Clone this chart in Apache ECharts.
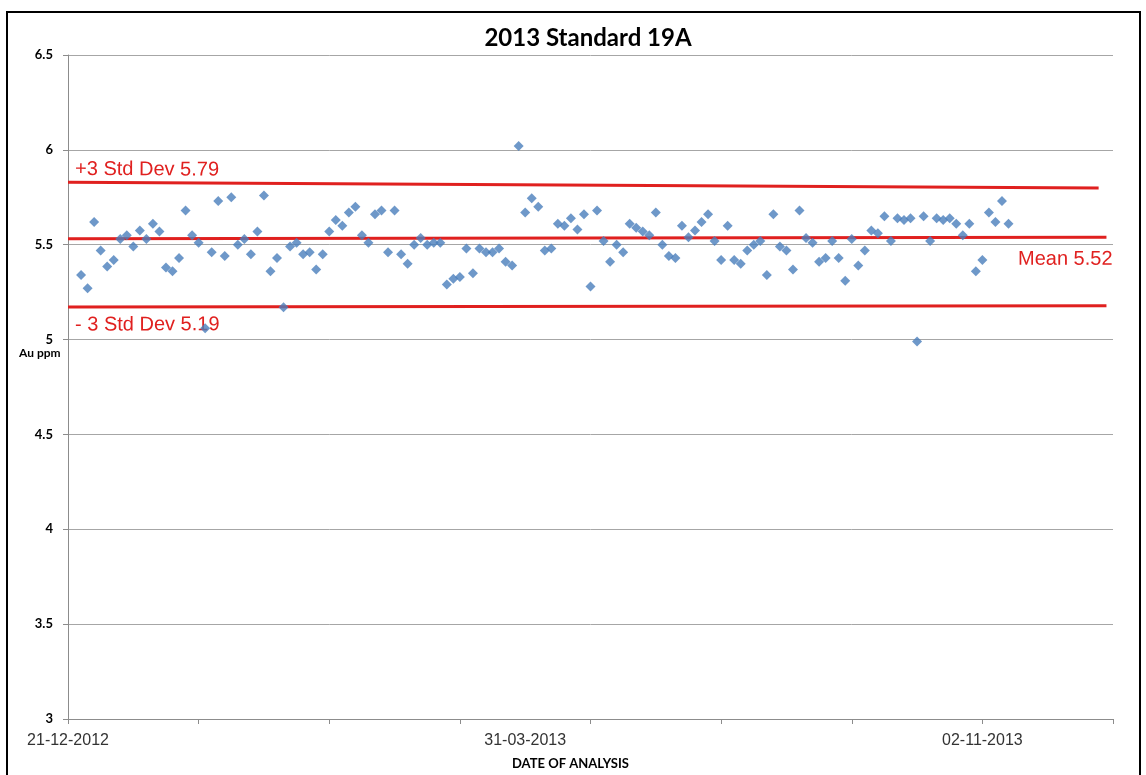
<!DOCTYPE html>
<html>
<head>
<meta charset="utf-8">
<title>2013 Standard 19A</title>
<script src="https://cdn.jsdelivr.net/npm/echarts@6/dist/echarts.min.js"></script>
<style>
  html, body { margin: 0; padding: 0; background: #fff; }
  #chart { width: 1146px; height: 775px; }
</style>
</head>
<body>
<div id="chart"></div>
<script>
// Au ppm of each assay, in order of analysis (first sample sits at slot 2)
const firstSlot = 2;
const auValues = [
  5.34, 5.27, 5.62, 5.47, 5.385, 5.42, 5.53, 5.55, 5.49, 5.575,
  5.53, 5.61, 5.57, 5.38, 5.36, 5.43, 5.68, 5.55, 5.51, 5.06,
  5.46, 5.73, 5.44, 5.75, 5.50, 5.53, 5.45, 5.57, 5.76, 5.36,
  5.43, 5.17, 5.49, 5.51, 5.45, 5.46, 5.37, 5.45, 5.57, 5.63,
  5.60, 5.67, 5.70, 5.55, 5.51, 5.66, 5.68, 5.46, 5.68, 5.45,
  5.40, 5.50, 5.535, 5.50, 5.51, 5.51, 5.29, 5.32, 5.33, 5.48,
  5.35, 5.48, 5.46, 5.46, 5.48, 5.41, 5.39, 6.02, 5.67, 5.745,
  5.70, 5.47, 5.48, 5.61, 5.60, 5.64, 5.58, 5.66, 5.28, 5.68,
  5.52, 5.41, 5.50, 5.46, 5.61, 5.59, 5.57, 5.55, 5.67, 5.50,
  5.44, 5.43, 5.60, 5.54, 5.575, 5.62, 5.66, 5.52, 5.42, 5.60,
  5.42, 5.40, 5.47, 5.50, 5.52, 5.34, 5.66, 5.49, 5.47, 5.37,
  5.68, 5.535, 5.51, 5.41, 5.43, 5.52, 5.43, 5.31, 5.53, 5.39,
  5.47, 5.575, 5.56, 5.65, 5.52, 5.64, 5.63, 5.64, 4.99, 5.65,
  5.52, 5.64, 5.63, 5.64, 5.61, 5.55, 5.61, 5.36, 5.42, 5.67,
  5.62, 5.73, 5.61
];

// date labels on the x axis and the slot each one sits on
const dateLabels = ['21-12-2012', '31-03-2013', '02-11-2013'];
const dateSlots = [0, 70, 140];
const slotCount = 160;

// control lines (hand drawn in the original, so a little tilted)
const limitNames = ['+3 Std Dev 5.79', 'Mean 5.52', '- 3 Std Dev 5.19'];
const limitStart = [5.829, 5.531, 5.172];
const limitEnd = [5.799, 5.540, 5.178];
const limitEndSlot = [157.8, 159, 159];

const yTicks = [3, 6.5, 0.5]; // min, max, step

const RED = '#e0201f';
const BLUE = '#4a7ebb';

const chart = echarts.init(document.getElementById('chart'));

const points = auValues.map((v, k) => [firstSlot + k, v]);

// label placement for each control line
const limitLabel = [
  { position: 'insideStartTop', distance: [7, 3] },
  { position: 'insideEndBottom', distance: [-6, 12] },
  { position: 'insideStartBottom', distance: [7, 8] }
];

const limitLines = limitNames.map((name, i) => [
  {
    coord: [0, limitStart[i]],
    label: {
      show: true,
      formatter: name,
      position: limitLabel[i].position,
      distance: limitLabel[i].distance,
      color: RED,
      fontFamily: 'Liberation Sans, Arial, sans-serif',
      fontSize: 20
    }
  },
  { coord: [limitEndSlot[i], limitEnd[i]] }
]);

const option = {
  animation: false,
  title: {
    text: '2013 Standard 19A',
    left: 583,
    top: 21,
    textAlign: 'center',
    textStyle: { fontFamily: 'Lato', fontWeight: 'bold', fontSize: 24, color: '#000' }
  },
  graphic: [
    {
      type: 'rect',
      shape: { x: 7, y: 12, width: 1133, height: 800 },
      style: { fill: 'none', stroke: '#000', lineWidth: 2 },
      silent: true
    },
    {
      type: 'text',
      left: 19,
      top: 347,
      style: { text: 'Au ppm', fontFamily: 'Lato', fontWeight: 'bold', fontSize: 12, fill: '#000' }
    }
  ],
  grid: { left: 68, right: 33, top: 55, bottom: 54, containLabel: false },
  xAxis: [
    {
      type: 'value',
      min: 0,
      max: slotCount,
      interval: 20,
      axisLine: { lineStyle: { color: '#8c8c8c', width: 1 } },
      axisTick: { show: true, length: 5, lineStyle: { color: '#8c8c8c' } },
      axisLabel: { show: false },
      splitLine: { show: false },
      name: 'DATE OF ANALYSIS',
      nameLocation: 'middle',
      nameGap: 38,
      nameTextStyle: {
        fontFamily: 'Lato', fontWeight: 'bold', fontSize: 13, color: '#000',
        padding: [0, 40, 0, 0]
      }
    },
    {
      // second axis only carries the date labels
      type: 'value',
      position: 'bottom',
      min: 0,
      max: slotCount,
      interval: dateSlots[1] - dateSlots[0],
      axisLine: { show: false },
      axisTick: { show: false },
      splitLine: { show: false },
      axisLabel: {
        margin: 14,
        showMaxLabel: false,
        fontFamily: 'Liberation Sans, Arial, sans-serif',
        fontSize: 16,
        color: '#333',
        formatter: (v) => {
          const k = dateSlots.indexOf(v);
          return k >= 0 ? dateLabels[k] : '';
        }
      }
    }
  ],
  yAxis: {
    type: 'value',
    min: yTicks[0],
    max: yTicks[1],
    interval: yTicks[2],
    axisLine: { show: true, lineStyle: { color: '#8c8c8c' } },
    axisTick: { show: true, length: 5, lineStyle: { color: '#8c8c8c' } },
    axisLabel: {
      margin: 15,
      fontFamily: 'Lato',
      fontWeight: 'bold',
      fontSize: 13,
      color: '#000'
    },
    splitLine: { show: true, lineStyle: { color: '#a6a6a6', width: 1 } }
  },
  series: [
    {
      name: 'Au ppm',
      type: 'scatter',
      xAxisIndex: 0,
      data: points,
      symbol: 'diamond',
      symbolSize: 10,
      itemStyle: { color: BLUE },
      z: 3,
      markLine: {
        silent: true,
        symbol: ['none', 'none'],
        lineStyle: { color: RED, width: 3, type: 'solid' },
        data: limitLines,
        z: 2
      }
    }
  ]
};

chart.setOption(option);
</script>
</body>
</html>
